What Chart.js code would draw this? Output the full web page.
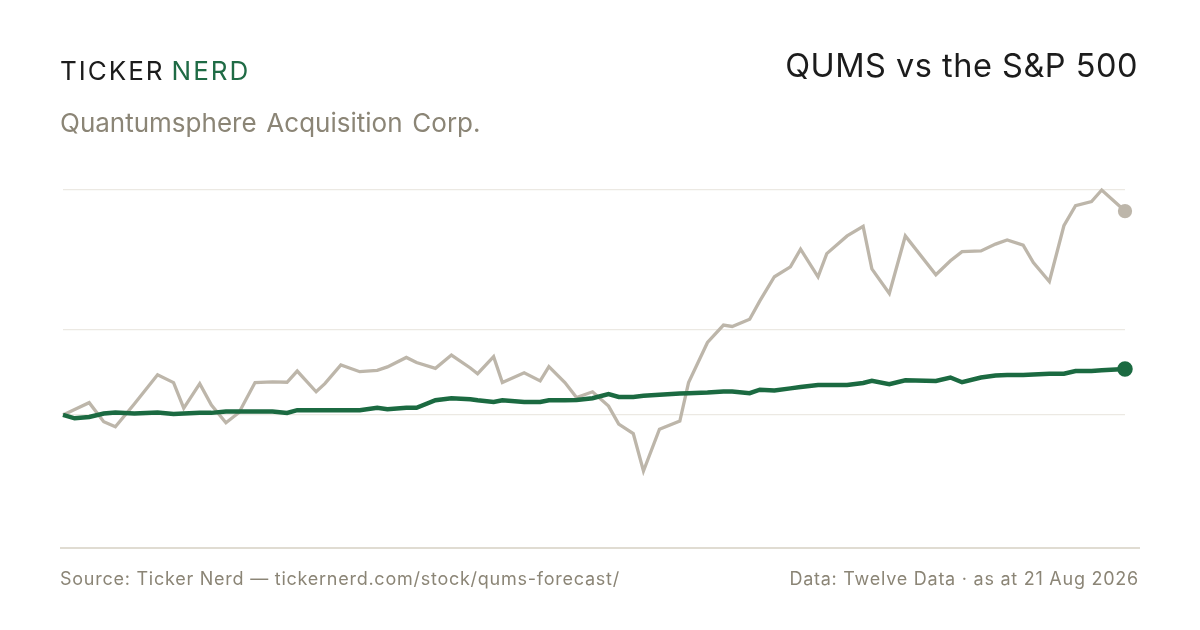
<!DOCTYPE html>
<html>
<head>
<meta charset="utf-8">
<script src="https://cdn.jsdelivr.net/npm/chart.js@4.4.1/dist/chart.umd.min.js"></script>
<style>
  html, body { margin: 0; padding: 0; background: #fff; }
  body { width: 1200px; height: 630px; position: relative; overflow: hidden; font-family: "Inter", "Liberation Sans", sans-serif; }
  #wrap { position: absolute; left: 0; top: 0; width: 1200px; height: 630px; }
  .brand { position: absolute; left: 60px; top: 55px; font-size: 26px; letter-spacing: 2px; color: #1c1c1c; }
  .brand span { color: #1f6b45; margin-left: 7px; }
  .title { position: absolute; right: 62px; top: 46px; font-size: 32.5px; letter-spacing: 0.5px; color: #1c1c1c; }
  .sub { position: absolute; left: 60px; top: 107px; font-size: 26px; color: #8b8576; word-spacing: 2.5px; }
  .rule { position: absolute; left: 60px; top: 547px; width: 1080px; height: 2px; background: #e0dcd2; }
  .foot { position: absolute; top: 568px; font-size: 18px; letter-spacing: 0.75px; color: #8b8576; }
</style>
</head>
<body>
<div id="wrap"><canvas id="chart"></canvas></div>
<div class="brand">TICKER<span>NERD</span></div>
<div class="title">QUMS vs the S&amp;P 500</div>
<div class="sub">Quantumsphere Acquisition Corp.</div>
<div class="rule"></div>
<div class="foot" style="left:60px">Source: Ticker Nerd — tickernerd.com/stock/qums-forecast/</div>
<div class="foot" style="right:61px">Data: Twelve Data · as at 21 Aug 2026</div>
<script>
// days since start of window
var days = [0, 8, 18, 28, 36, 49, 65, 76, 83, 94, 102, 112, 121, 132, 144, 154, 161, 174, 180, 191,
  204, 216, 223, 236, 243, 256, 267, 280, 285, 296, 302, 317, 328, 334, 345, 353, 364, 375, 382, 392,
  399, 410, 424, 430, 443, 454, 460, 472, 479, 489, 500, 507, 519, 525, 539, 550, 556, 568, 579, 600,
  610, 618, 631, 641, 649, 660, 667, 678, 688, 696, 707, 714, 730];

// % change from start
var qums = [0, 1.6, 3.6, -2.0, -3.5, 3.2, 11.8, 9.5, 2.0, 9.2, 2.9, -2.3, 0.7, 9.5, 9.7, 9.6, 12.9, 6.8, 9.2, 14.7,
  12.7, 13.1, 14.1, 16.9, 15.4, 13.7, 17.6, 13.8, 12.1, 17.1, 9.5, 12.4, 10.0, 14.2, 9.5, 5.1, 6.8, 2.6, -2.7, -5.5,
  -16.5, -4.2, -1.8, 9.5, 21.3, 26.4, 26.0, 28.1, 33.5, 40.6, 43.5, 48.7, 40.6, 47.4, 52.6, 55.4, 42.9, 35.7, 52.6, 41.2,
  45.3, 48.0, 48.2, 50.2, 51.4, 49.9, 44.8, 39.2, 55.6, 61.5, 62.7, 66.1, 59.9];

var spx = [0, -1.0, -0.6, 0.4, 0.7, 0.4, 0.7, 0.3, 0.4, 0.6, 0.6, 1.0, 1.0, 1.0, 1.0, 0.6, 1.4, 1.4, 1.4, 1.4,
  1.4, 2.1, 1.7, 2.1, 2.1, 4.3, 4.9, 4.6, 4.3, 3.8, 4.3, 3.8, 3.8, 4.3, 4.3, 4.4, 4.9, 6.1, 5.3, 5.3,
  5.6, 5.9, 6.3, 6.4, 6.6, 6.9, 6.9, 6.4, 7.4, 7.2, 7.8, 8.2, 8.8, 8.8, 8.8, 9.4, 10.0, 9.0, 10.2, 10.0,
  11.0, 9.6, 11.0, 11.6, 11.7, 11.7, 11.9, 12.1, 12.1, 12.9, 12.9, 13.1, 13.5];

var gridValues = [0, 25];

function pts(vals) {
  return vals.map(function (v, i) { return { x: days[i], y: v }; });
}
function lastDot(r) {
  return function (ctx) { return ctx.dataIndex === ctx.dataset.data.length - 1 ? r : 0; };
}

var yMax = Math.max.apply(null, qums);

new Chart("chart", {
  type: "line",
  data: {
    datasets: [{
      label: "S&P 500",
      data: pts(spx),
      borderColor: "#1b6a41",
      backgroundColor: "#1b6a41",
      borderWidth: 4.5,
      pointRadius: lastDot(5.5),
      pointHoverRadius: 0,
      tension: 0,
      clip: false
    }, {
      label: "QUMS",
      data: pts(qums),
      borderColor: "#bdb6aa",
      backgroundColor: "#bdb6aa",
      borderWidth: 3.3,
      pointRadius: lastDot(5.5),
      pointHoverRadius: 0,
      tension: 0,
      clip: false
    }]
  },
  options: {
    responsive: true,
    maintainAspectRatio: false,
    animation: false,
    layout: { padding: { left: 63, right: 75, top: 190, bottom: 129 } },
    plugins: { legend: { display: false }, tooltip: { enabled: false } },
    scales: {
      x: { type: "linear", display: false, min: days[0], max: days[days.length - 1] },
      y: {
        min: -25.3,
        max: yMax,
        border: { display: false },
        grid: { color: "#ece9e3", lineWidth: 1.3, drawTicks: false },
        ticks: { display: false },
        afterBuildTicks: function (scale) {
          scale.ticks = gridValues.concat([yMax]).map(function (v) { return { value: v }; });
        }
      }
    }
  }
});
</script>
</body>
</html>
